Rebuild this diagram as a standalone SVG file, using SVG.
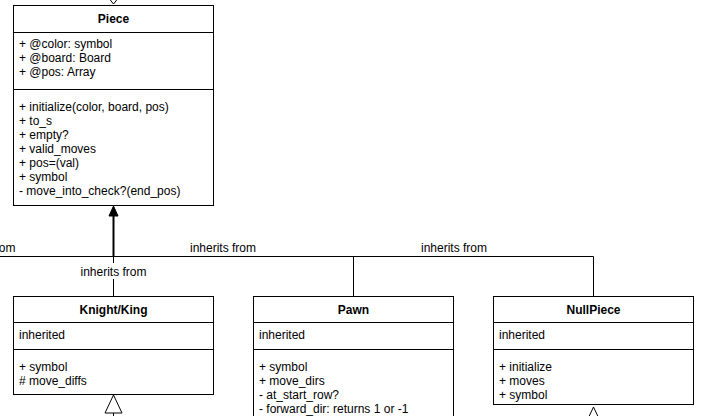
<svg xmlns="http://www.w3.org/2000/svg" width="702" height="416" viewBox="0 0 702 416">
<style>
.box{fill:#fff;stroke:#000;stroke-width:1}
.t{font-family:"Liberation Sans",Arial,sans-serif;font-size:12px;fill:#000}
.b{font-weight:bold;text-anchor:middle}
.ln{fill:none;stroke:#000;stroke-width:1}
.lbl{text-anchor:middle}
</style>
<rect width="702" height="416" fill="#fff"/>
<g id="connectors">
  <path class="ln" d="M0 256.5H593.5V296"/>
  <path class="ln" d="M353.5 256.5V296"/>
  <path class="ln" d="M113.5 256.5V296"/>
  <path d="M113.5 256.5V214" fill="none" stroke="#000" stroke-width="2"/>
  <path d="M113.5 206L109 216L118 216Z" fill="#000" stroke="#000" stroke-width="1"/>
  <path class="ln" d="M109.5 -1L113.5 4L117.5 -1"/>
  <path d="M113.5 395L105 413H122Z" fill="#fff" stroke="#000" stroke-width="1"/>
  <path class="ln" d="M113.5 413V416"/>
  <path d="M593.5 407L585 425H602Z" fill="#fff" stroke="#000" stroke-width="1"/>
  <rect x="79" y="263" width="69" height="16" fill="#fff"/>
  <text class="t" x="15.5" y="252" text-anchor="end">inherits from</text>
  <text class="t lbl" x="223" y="252">inherits from</text>
  <text class="t lbl" x="454" y="252">inherits from</text>
  <text class="t lbl" x="113.5" y="276">inherits from</text>
</g>
<g id="piece">
  <rect class="box" x="13.5" y="5.5" width="200" height="200"/>
  <path class="ln" d="M13.5 32.5H213.5M13.5 89.5H213.5"/>
  <text class="t b" x="113.5" y="23">Piece</text>
  <text class="t" x="19" y="48">+ @color: symbol</text>
  <text class="t" x="19" y="62">+ @board: Board</text>
  <text class="t" x="19" y="76">+ @pos: Array</text>
  <text class="t" x="19" y="111">+ initialize(color, board, pos)</text>
  <text class="t" x="19" y="125">+ to_s</text>
  <text class="t" x="19" y="139">+ empty?</text>
  <text class="t" x="19" y="153">+ valid_moves</text>
  <text class="t" x="19" y="167">+ pos=(val)</text>
  <text class="t" x="19" y="181">+ symbol</text>
  <text class="t" x="19" y="195">- move_into_check?(end_pos)</text>
</g>
<g id="knightking">
  <rect class="box" x="13.5" y="296.5" width="200" height="98"/>
  <path class="ln" d="M13.5 322.5H213.5M13.5 349.5H213.5"/>
  <text class="t b" x="113.5" y="314">Knight/King</text>
  <text class="t" x="19" y="339">inherited</text>
  <text class="t" x="19" y="371">+ symbol</text>
  <text class="t" x="19" y="385"># move_diffs</text>
</g>
<g id="pawn">
  <rect class="box" x="253.5" y="296.5" width="200" height="130"/>
  <path class="ln" d="M253.5 322.5H453.5M253.5 349.5H453.5"/>
  <text class="t b" x="353.5" y="314">Pawn</text>
  <text class="t" x="259" y="339">inherited</text>
  <text class="t" x="259" y="371">+ symbol</text>
  <text class="t" x="259" y="385">+ move_dirs</text>
  <text class="t" x="259" y="399">- at_start_row?</text>
  <text class="t" x="259" y="413">- forward_dir: returns 1 or -1</text>
</g>
<g id="nullpiece">
  <rect class="box" x="493.5" y="296.5" width="200" height="108"/>
  <path class="ln" d="M493.5 322.5H693.5M493.5 349.5H693.5"/>
  <text class="t b" x="593.5" y="314">NullPiece</text>
  <text class="t" x="499" y="339">inherited</text>
  <text class="t" x="499" y="371">+ initialize</text>
  <text class="t" x="499" y="385">+ moves</text>
  <text class="t" x="499" y="399">+ symbol</text>
</g>
</svg>
